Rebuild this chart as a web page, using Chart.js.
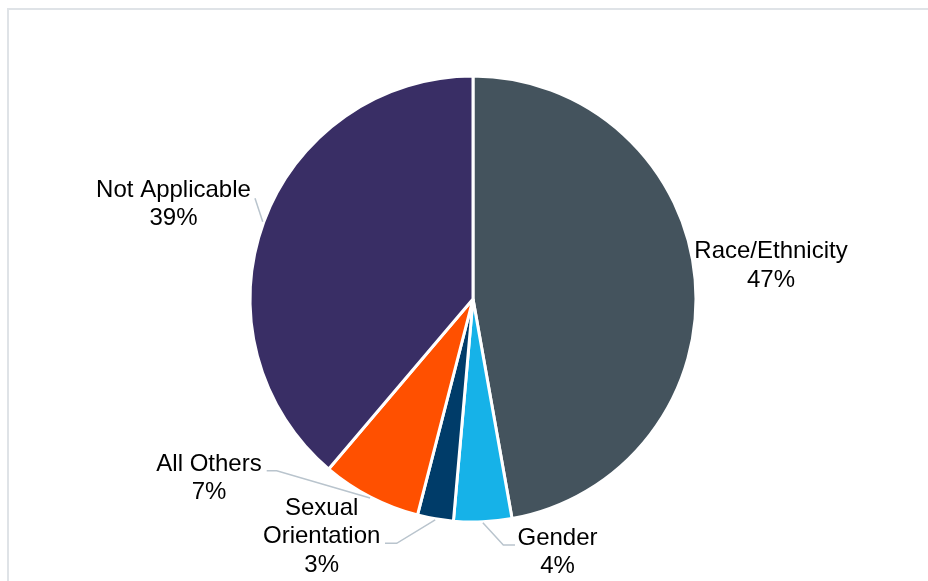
<!DOCTYPE html>
<html>
<head>
<meta charset="utf-8">
<script src="https://cdn.jsdelivr.net/npm/chart.js@4.4.0/dist/chart.umd.min.js"></script>
<style>
  html, body { margin: 0; padding: 0; background: #fff; overflow: hidden; }
  #wrap { position: relative; width: 928px; height: 581px; }
  #frame { position: absolute; left: 7px; top: 8px; width: 1000px; height: 1000px;
           border: 2px solid #dfe3e7; box-sizing: border-box; }
  canvas { position: absolute; left: 0; top: 0; }
</style>
</head>
<body>
<div id="wrap">
  <div id="frame"></div>
  <canvas id="pie" width="928" height="581"></canvas>
</div>
<script>
const categories = ['Race/Ethnicity', 'Gender', 'Sexual Orientation', 'All Others', 'Not Applicable'];
const shares = [47.2, 4.2, 2.6, 7.2, 38.8];
const colors = ['#44535d', '#16b2e8', '#003c69', '#ff5000', '#392e65'];

// where each label sits, relative to the pie centre (first baseline),
// plus elbow points of its leader line (the line ends on the slice edge)
const spots = [
  { dx: 298, dy: -40.7, wrap: false, leader: null },
  { dx: 84.5, dy: 246, wrap: false, leader: [[42, 246], [30.3, 246]] },
  { dx: -151.3, dy: 216, wrap: true, leader: [[-88, 244.3], [-76.3, 244.3]] },
  { dx: -264, dy: 171.7, wrap: false, leader: [[-206.3, 171.7], [-196.3, 171.7]] },
  { dx: -299.5, dy: -102.3, wrap: false, leader: [[-218, -100.7]] }
];

const lineH = 28.4;

const sliceLabels = {
  id: 'sliceLabels',
  afterDatasetsDraw(chart) {
    const ctx = chart.ctx;
    const meta = chart.getDatasetMeta(0);
    ctx.save();
    meta.data.forEach((arc, i) => {
      const p = arc.getProps(['x', 'y', 'startAngle', 'endAngle', 'outerRadius'], true);
      const mid = (p.startAngle + p.endAngle) / 2;
      const ex = p.x + Math.cos(mid) * (p.outerRadius + 1);
      const ey = p.y + Math.sin(mid) * (p.outerRadius + 1);
      const s = spots[i];
      if (s.leader) {
        ctx.beginPath();
        ctx.strokeStyle = '#b9c4cd';
        ctx.lineWidth = 1.5;
        s.leader.forEach((pt, k) => {
          if (k === 0) ctx.moveTo(p.x + pt[0], p.y + pt[1]);
          else ctx.lineTo(p.x + pt[0], p.y + pt[1]);
        });
        ctx.lineTo(ex, ey);
        ctx.stroke();
      }
      const lines = s.wrap ? categories[i].split(' ') : [categories[i]];
      lines.push(Math.round(shares[i]) + '%');
      ctx.fillStyle = '#000';
      ctx.font = "24px 'Liberation Sans', Arial, sans-serif";
      ctx.textAlign = 'center';
      ctx.textBaseline = 'alphabetic';
      lines.forEach((t, k) => {
        ctx.fillText(t, p.x + s.dx, p.y + s.dy + k * lineH);
      });
    });
    ctx.restore();
  }
};

new Chart(document.getElementById('pie'), {
  type: 'pie',
  data: {
    labels: categories,
    datasets: [{
      data: shares,
      backgroundColor: colors,
      borderColor: '#ffffff',
      borderWidth: 3
    }]
  },
  options: {
    responsive: false,
    animation: false,
    radius: 223,
    layout: { padding: { left: 18, top: 17, right: 0, bottom: 0 } },
    plugins: {
      legend: { display: false },
      tooltip: { enabled: false }
    }
  },
  plugins: [sliceLabels]
});
</script>
</body>
</html>
